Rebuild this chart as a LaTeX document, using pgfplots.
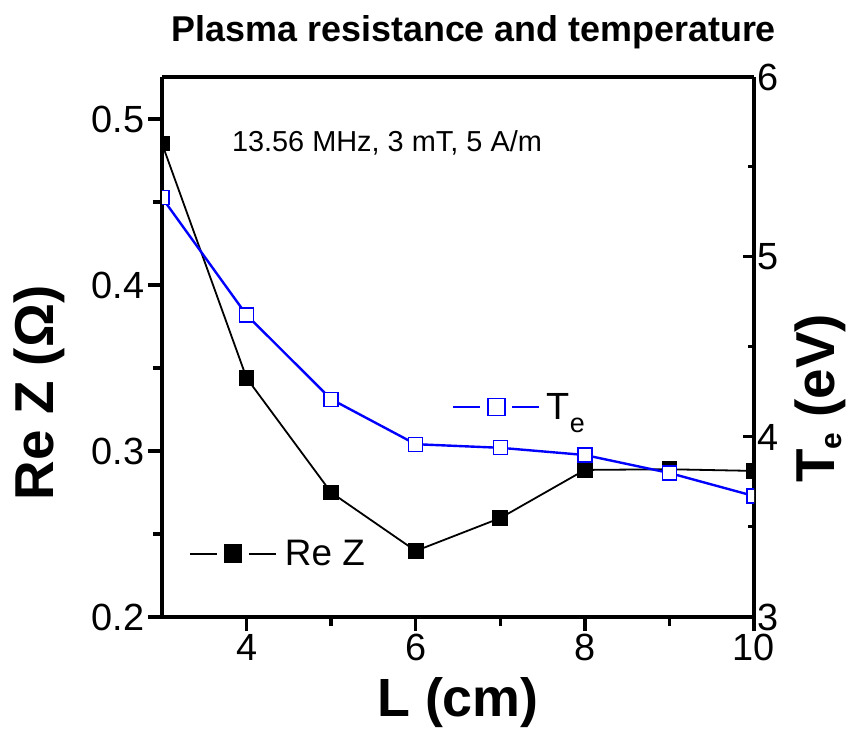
\documentclass[border=0pt]{standalone}
\usepackage{fontspec}
\setmainfont{Liberation Sans}
\usepackage{pgfplots}
\pgfplotsset{compat=1.18}
\pgfplotsset{
  gaplegend/.style={
    legend image code/.code={
      \draw[##1, mark=none] (0bp,0bp) -- (27bp,0bp);
      \draw[##1, mark=none] (59bp,0bp) -- (86bp,0bp);
      \draw[##1, mark size=8.5bp] plot coordinates {(43bp,0bp)};
    }
  },
  common/.style={
    at={(0,0)}, anchor=south west, scale only axis, width=592bp, height=540bp,
    xmin=3, xmax=10,
    axis line style={line width=4.5bp},
    /pgf/number format/assume math mode=true,
    ticklabel style={font=\fontsize{38}{38}\selectfont},
    clip marker paths=true,
    gaplegend,
  }
}
\begin{document}
\begin{tikzpicture}
\useasboundingbox (-162bp,-112bp) rectangle (697bp,617bp);
\begin{axis}[common,
  ymin=0.2, ymax=0.5253,
  axis x line*=bottom, axis y line*=left,
  xtick={4,6,8,10}, minor xtick={5,7,9},
  ytick={0.2,0.3,0.4,0.5}, yticklabels={0.2,0.3,0.4,0.5},
  minor ytick={0.25,0.35,0.45},
  tick align=outside,
  major tick length=14bp, minor tick length=9bp,
  tick style={line width=3.5bp, black},
  xlabel={L (cm)},
  xlabel style={font=\bfseries\fontsize{54}{54}\selectfont, at={(axis description cs:0.5,-0.159)}, anchor=center},
  ylabel={Re Z (Ω)},
  ylabel style={font=\bfseries\fontsize{55}{55}\selectfont, at={(axis description cs:-0.208,0.415)}, anchor=center},
  title={Plasma resistance and temperature},
  title style={font=\bfseries\fontsize{36}{36}\selectfont, at={(axis description cs:0.527,1.072)}, anchor=center},
  legend style={at={(axis description cs:0.0456,0.117)}, anchor=west, draw=none, fill=none, inner sep=0pt,
    font=\fontsize{37}{37}\selectfont},
]
\addplot[black, line width=1.8bp, mark=square*, mark size=7bp, mark options={solid, fill=black}]
  coordinates {(3,0.4852) (4,0.344) (5,0.275) (6,0.2398) (7,0.2596) (8,0.2886) (9,0.2890) (10,0.2880)};
\addlegendentry{\hspace{6bp}Re Z}
\node[font=\fontsize{29}{29}\selectfont, anchor=center] at (axis description cs:0.38,0.878) {13.56 MHz, 3 mT, 5 A/m};
\end{axis}
\begin{axis}[common,
  ymin=3, ymax=6,
  axis x line*=top, axis y line*=right,
  xtick=\empty,
  ytick={3,4,5,6}, minor ytick={3.5,4.5,5.5},
  tick align=inside,
  major tick length=11bp, minor tick length=6bp,
  tick style={line width=3bp, black},
  ylabel={T\raisebox{-7bp}{\fontsize{30}{30}\selectfont e} (eV)},
  ylabel style={font=\bfseries\fontsize{55}{55}\selectfont, at={(axis description cs:1.1115,0.405)}, anchor=center},
  legend style={at={(axis description cs:0.49,0.389)}, anchor=west, draw=none, fill=none, inner sep=0pt,
    font=\fontsize{38}{38}\selectfont},
]
\addplot[blue, line width=2.4bp, mark=square*, mark size=7bp, mark options={solid, fill=white, draw=blue, line width=1.3bp}]
  coordinates {(3,5.33) (4,4.678) (5,4.21) (6,3.96) (7,3.94) (8,3.90) (9,3.80) (10,3.672)};
\addlegendentry{\hspace{4bp}T\raisebox{-13bp}{\fontsize{27}{27}\selectfont e}}
\end{axis}
\end{tikzpicture}
\end{document}
